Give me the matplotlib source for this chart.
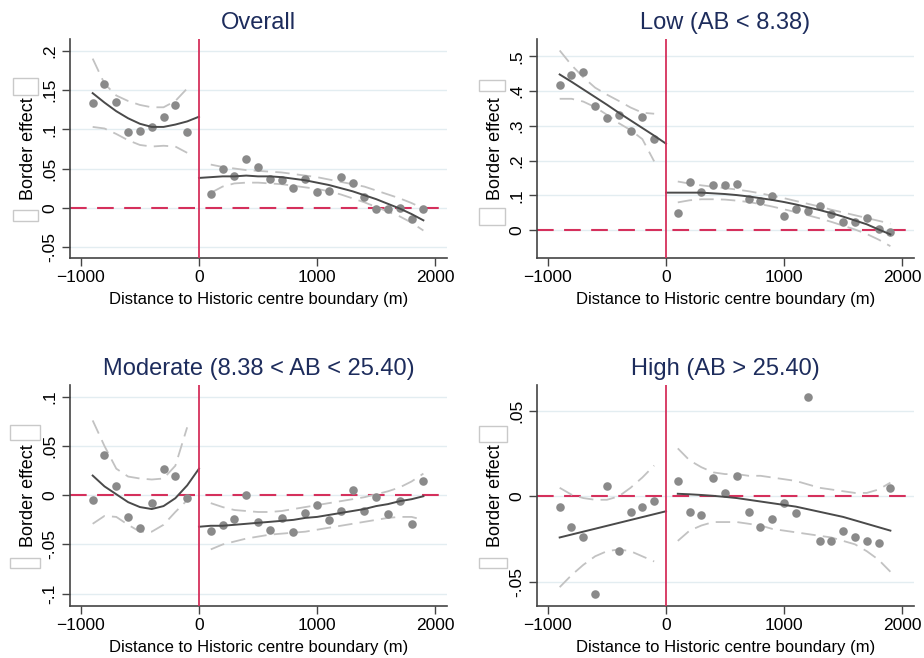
import matplotlib.pyplot as plt
from matplotlib.ticker import FuncFormatter
from matplotlib.patches import Rectangle

plt.rcParams['font.family'] = ['Liberation Sans', 'DejaVu Sans']

# distance bins (m)
bins_left = [-900, -800, -700, -600, -500, -400, -300, -200, -100]
bins_right = [100, 200, 300, 400, 500, 600, 700, 800, 900, 1000,
              1100, 1200, 1300, 1400, 1500, 1600, 1700, 1800, 1900]
fit_x_left = [-900, -800, -700, -600, -500, -400, -300, -200, -100, 0]
fit_x_right = [0, 100, 200, 300, 400, 500, 600, 700, 800, 900, 1000,
               1100, 1200, 1300, 1400, 1500, 1600, 1700, 1800, 1900]

titles = ["Overall", "Low (AB < 8.38)", "Moderate (8.38 < AB < 25.40)", "High (AB > 25.40)"]

# Overall
ov_pts_l = [0.133, 0.158, 0.135, 0.096, 0.098, 0.103, 0.115, 0.131, 0.096]
ov_pts_r = [0.018, 0.050, 0.041, 0.062, 0.052, 0.037, 0.035, 0.025, 0.037, 0.020,
            0.021, 0.039, 0.031, 0.014, -0.002, -0.002, 0.000, -0.014, -0.002]
ov_fit_l = [0.146, 0.134, 0.123, 0.114, 0.107, 0.103, 0.103, 0.106, 0.110, 0.116]
ov_fit_r = [0.038, 0.039, 0.040, 0.040, 0.041, 0.040, 0.040, 0.039, 0.037, 0.035,
            0.032, 0.029, 0.025, 0.021, 0.016, 0.011, 0.005, -0.001, -0.008, -0.016]
ov_hi_l = [0.190, 0.158, 0.143, 0.136, 0.131, 0.128, 0.128, 0.136, 0.152]
ov_lo_l = [0.103, 0.101, 0.094, 0.086, 0.080, 0.078, 0.079, 0.078, 0.070]
ov_hi_r = [0.055, 0.052, 0.050, 0.048, 0.047, 0.046, 0.045, 0.043, 0.041, 0.039,
           0.036, 0.033, 0.030, 0.027, 0.022, 0.017, 0.012, 0.006, -0.001]
ov_lo_r = [0.019, 0.027, 0.031, 0.032, 0.032, 0.031, 0.030, 0.028, 0.026, 0.024,
           0.021, 0.017, 0.012, 0.007, 0.001, -0.005, -0.011, -0.019, -0.029]

# Low
lo_pts_l = [0.419, 0.447, 0.454, 0.358, 0.323, 0.330, 0.286, 0.326, 0.262]
lo_pts_r = [0.050, 0.138, 0.109, 0.130, 0.130, 0.134, 0.090, 0.083, 0.098, 0.042,
            0.061, 0.055, 0.070, 0.047, 0.023, 0.023, 0.034, 0.004, -0.006]
lo_fit_l = [0.448, 0.427, 0.405, 0.383, 0.361, 0.338, 0.316, 0.294, 0.272, 0.249]
lo_fit_r = [0.108, 0.108, 0.108, 0.108, 0.106, 0.104, 0.101, 0.097, 0.092, 0.087,
            0.081, 0.074, 0.066, 0.058, 0.049, 0.039, 0.028, 0.017, 0.002, -0.012]
lo_hi_l = [0.517, 0.475, 0.440, 0.410, 0.390, 0.372, 0.353, 0.338, 0.335]
lo_lo_l = [0.378, 0.378, 0.370, 0.354, 0.332, 0.308, 0.288, 0.262, 0.198]
lo_hi_r = [0.140, 0.134, 0.129, 0.125, 0.121, 0.117, 0.112, 0.106, 0.099, 0.092,
           0.084, 0.076, 0.068, 0.059, 0.051, 0.043, 0.035, 0.027, 0.019]
lo_lo_r = [0.080, 0.086, 0.089, 0.089, 0.088, 0.085, 0.081, 0.075, 0.068, 0.060,
           0.052, 0.043, 0.034, 0.024, 0.013, 0.002, -0.011, -0.027, -0.046]

# Moderate
md_pts_l = [-0.005, 0.041, 0.009, -0.022, -0.033, -0.008, 0.027, 0.020, -0.003]
md_pts_r = [-0.036, -0.030, -0.024, 0.000, -0.027, -0.035, -0.023, -0.037, -0.018, -0.010,
            -0.025, -0.016, 0.005, -0.016, -0.002, -0.019, -0.006, -0.029, 0.014]
md_fit_l = [0.020, 0.009, 0.001, -0.007, -0.012, -0.014, -0.011, -0.003, 0.010, 0.027]
md_fit_r = [-0.032, -0.031, -0.031, -0.030, -0.029, -0.028, -0.027, -0.026, -0.025, -0.023,
            -0.022, -0.020, -0.018, -0.016, -0.014, -0.011, -0.009, -0.006, -0.004, -0.001]
md_hi_l = [0.076, 0.050, 0.027, 0.019, 0.017, 0.016, 0.017, 0.030, 0.069]
md_lo_l = [-0.029, -0.021, -0.022, -0.030, -0.037, -0.037, -0.030, -0.017, -0.005]
md_hi_r = [-0.008, -0.012, -0.015, -0.016, -0.017, -0.017, -0.016, -0.014, -0.012, -0.010,
           -0.008, -0.006, -0.004, -0.002, 0.001, 0.004, 0.008, 0.014, 0.022]
md_lo_r = [-0.055, -0.050, -0.047, -0.044, -0.042, -0.040, -0.039, -0.038, -0.037, -0.035,
           -0.033, -0.031, -0.029, -0.027, -0.025, -0.023, -0.022, -0.022, -0.025]

# High
hg_pts_l = [-0.006, -0.018, -0.024, -0.057, 0.006, -0.032, -0.009, -0.006, -0.003]
hg_pts_r = [0.009, -0.009, -0.011, 0.011, 0.002, 0.012, -0.009, -0.018, -0.013, -0.004,
            -0.010, 0.058, -0.026, -0.026, -0.020, -0.024, -0.026, -0.027, 0.005]
hg_fit_l = [-0.0240, -0.0223, -0.0206, -0.0189, -0.0172, -0.0155, -0.0138, -0.0121, -0.0104, -0.0087]
hg_fit_r = [0.0015, 0.0012, 0.0008, 0.0003, -0.0003, -0.001, -0.002, -0.003, -0.004, -0.005,
            -0.006, -0.0075, -0.009, -0.0105, -0.012, -0.014, -0.016, -0.018, -0.020]
hg_hi_l = [0.005, 0.001, -0.001, -0.002, -0.002, 0.000, 0.005, 0.011, 0.018]
hg_lo_l = [-0.053, -0.046, -0.040, -0.035, -0.032, -0.031, -0.032, -0.035, -0.038]
hg_hi_r = [0.028, 0.021, 0.017, 0.014, 0.013, 0.013, 0.012, 0.012, 0.011, 0.010,
           0.009, 0.007, 0.005, 0.004, 0.003, 0.002, 0.002, 0.004, 0.008]
hg_lo_r = [-0.026, -0.020, -0.017, -0.015, -0.015, -0.015, -0.016, -0.017, -0.019, -0.020,
           -0.021, -0.022, -0.023, -0.024, -0.026, -0.028, -0.032, -0.037, -0.044]

yticks_ov = [-0.05, 0, 0.05, 0.1, 0.15, 0.2]
yticks_lo = [0, 0.1, 0.2, 0.3, 0.4, 0.5]
yticks_md = [-0.1, -0.05, 0, 0.05, 0.1]
yticks_hg = [-0.05, 0, 0.05]

RED = "#d5305c"
PT = "#8a8a8a"
FIT = "#4a4a4a"
CI = "#c2c2c2"
NAVY = "#1d2c5c"
GRID = "#e3edf1"


def stata_fmt(v, pos):
    s = "%g" % round(v, 4)
    if s == "-0":
        s = "0"
    return s.replace("0.", ".")


def panel(ax, title, pl, pr, fxl, fl, fxr, fr, hl, ll, hr, lr, yt, ylim):
    ax.set_xlim(-1092, 2100)
    ax.set_ylim(*ylim)
    ax.set_yticks(yt)
    ax.set_xticks([-1000, 0, 1000, 2000])
    ax.yaxis.set_major_formatter(FuncFormatter(stata_fmt))
    for t in yt:
        ax.axhline(t, color=GRID, lw=1.0, zorder=0)
    ax.axhline(0, color=RED, lw=1.5, dashes=(8, 5), zorder=1)
    ax.axvline(0, color=RED, lw=1.3, zorder=4)
    ax.plot(bins_left, hl, color=CI, lw=1.3, dashes=(8, 4), zorder=2)
    ax.plot(bins_left, ll, color=CI, lw=1.3, dashes=(8, 4), zorder=2)
    ax.plot(bins_right, hr, color=CI, lw=1.3, dashes=(8, 4), zorder=2)
    ax.plot(bins_right, lr, color=CI, lw=1.3, dashes=(8, 4), zorder=2)
    ax.scatter(bins_left, pl, s=38, color=PT, lw=0, zorder=3)
    ax.scatter(bins_right, pr, s=38, color=PT, lw=0, zorder=3)
    ax.plot(fxl, fl, color=FIT, lw=1.4, zorder=3)
    ax.plot(fxr, fr, color=FIT, lw=1.4, zorder=3)
    ax.set_title(title, fontsize=17, color=NAVY, pad=7)
    ax.set_xlabel("Distance to Historic centre boundary (m)", fontsize=12, labelpad=5)
    ax.set_ylabel("Border effect", fontsize=13, labelpad=4)
    ax.spines[["top", "right"]].set_visible(False)
    for s in ["left", "bottom"]:
        ax.spines[s].set_color("#444444")
        ax.spines[s].set_linewidth(1.2)
    ax.tick_params(axis="both", labelsize=12.5, length=6, width=1.0, color="#444444", pad=3)
    for lab in ax.get_yticklabels():
        lab.set_rotation(90)
        lab.set_va("center")


W, H = 924, 658
fig = plt.figure(figsize=(W / 100, H / 100), dpi=100)

ax1 = fig.add_axes([70 / W, 1 - 258 / H, 377 / W, 219 / H])
ax2 = fig.add_axes([537 / W, 1 - 258 / H, 377 / W, 219 / H])
ax3 = fig.add_axes([70 / W, 1 - 606 / H, 377 / W, 221 / H])
ax4 = fig.add_axes([537 / W, 1 - 606 / H, 377 / W, 221 / H])

panel(ax1, titles[0], ov_pts_l, ov_pts_r, fit_x_left, ov_fit_l, fit_x_right, ov_fit_r,
      ov_hi_l, ov_lo_l, ov_hi_r, ov_lo_r, yticks_ov, (-0.064, 0.215))
panel(ax2, titles[1], lo_pts_l, lo_pts_r, fit_x_left, lo_fit_l, fit_x_right, lo_fit_r,
      lo_hi_l, lo_lo_l, lo_hi_r, lo_lo_r, yticks_lo, (-0.08, 0.55))
panel(ax3, titles[2], md_pts_l, md_pts_r, fit_x_left, md_fit_l, fit_x_right, md_fit_r,
      md_hi_l, md_lo_l, md_hi_r, md_lo_r, yticks_md, (-0.1125, 0.112))
panel(ax4, titles[3], hg_pts_l, hg_pts_r, fit_x_left, hg_fit_l, bins_right, hg_fit_r,
      hg_hi_l, hg_lo_l, hg_hi_r, hg_lo_r, yticks_hg, (-0.064, 0.065))

# faint leftover frames around the y labels
boxes = [(13, 78, 25, 17), (13, 210, 25, 11),
         (479, 80, 26, 11), (479, 208, 26, 17),
         (10, 425, 30, 15), (10, 558, 30, 10),
         (479, 426, 28, 16), (479, 558, 28, 10)]
for bx, by, bw, bh in boxes:
    fig.patches.append(Rectangle((bx / W, 1 - (by + bh) / H), bw / W, bh / H,
                                 transform=fig.transFigure, fill=False,
                                 edgecolor="#c9c9c9", lw=1.0))

fig.savefig("out.png", dpi=100, facecolor="white")
